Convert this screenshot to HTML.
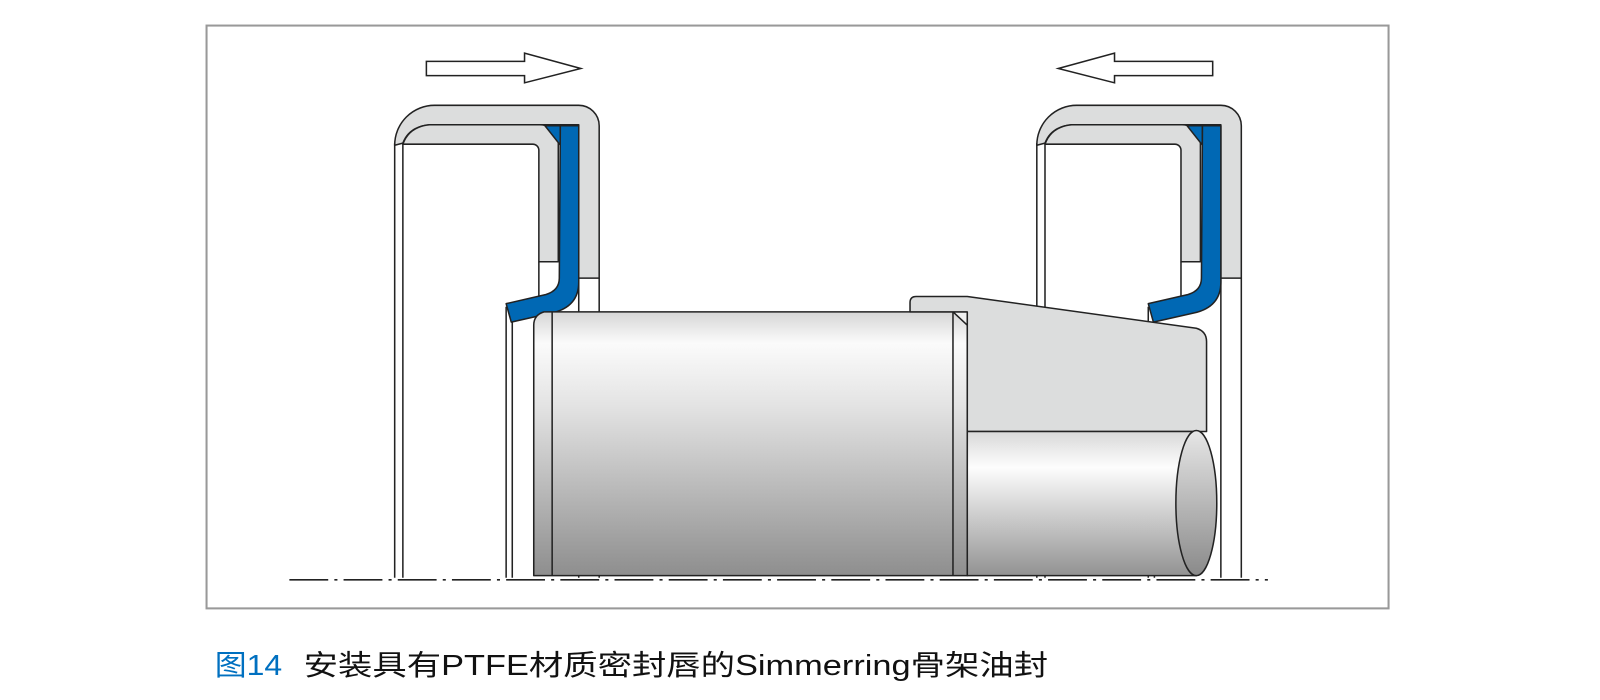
<!DOCTYPE html>
<html><head><meta charset="utf-8"><style>
html,body{margin:0;padding:0;background:#fff;width:1600px;height:700px;overflow:hidden}
</style></head><body>
<svg width="1600" height="700" viewBox="0 0 1600 700" xmlns="http://www.w3.org/2000/svg">
<defs>
<linearGradient id="cyl" x1="0" y1="0" x2="0" y2="1">
<stop offset="0" stop-color="#d6d6d6"/><stop offset="0.12" stop-color="#fbfbfb"/><stop offset="0.35" stop-color="#e4e4e4"/><stop offset="1" stop-color="#8e8e8e"/>
</linearGradient>
<linearGradient id="cyl2" x1="0" y1="0" x2="0" y2="1">
<stop offset="0" stop-color="#d8d8d8"/><stop offset="0.25" stop-color="#fdfdfd"/><stop offset="1" stop-color="#929292"/>
</linearGradient>
<linearGradient id="ell" x1="0" y1="0" x2="0" y2="1">
<stop offset="0" stop-color="#e6e6e6"/><stop offset="1" stop-color="#8a8a8a"/>
</linearGradient>
<g id="seal" stroke="#222" stroke-width="1.5" stroke-linejoin="round">
<line x1="386" y1="140" x2="386" y2="565"/>
<line x1="394" y1="140" x2="394" y2="565"/>
<line x1="566" y1="272" x2="566" y2="565"/>
<line x1="586" y1="272" x2="586" y2="565"/>
<line x1="495" y1="300" x2="495" y2="565"/>
<line x1="501" y1="310" x2="501" y2="565"/>
<line x1="527" y1="256" x2="527" y2="292"/>
<path d="M386,142 A39,39 0 0 1 425,103 H566 A20,20 0 0 1 586,123 V272 H566 V122 H420 Q400,124 394,140 Z" fill="#dcdddd"/>
<path d="M394,141 Q400,124 420,122 H528 A18,18 0 0 1 546,140 V256 H527 V147 A6,6 0 0 0 521,141 Z" fill="#dcdddd"/>
<polygon points="533,123 548,123 548,142" fill="#0068b4"/>
<path d="M548,123 H566 V276 Q566,300 540,306 L500,315 L495,297 L534,288 Q547,284 547,272 Z" fill="#0068b4"/>
</g>
</defs>
<g transform="scale(1.0225)">
<rect x="202" y="25" width="1156" height="570" fill="none" stroke="#999" stroke-width="2"/>
<polygon points="417,60 513,60 513,52 568,67 513,81 513,74 417,74" fill="#fff" stroke="#222" stroke-width="1.5"/>
<polygon points="1186,60 1090,60 1090,52 1035,67 1090,81 1090,74 1186,74" fill="#fff" stroke="#222" stroke-width="1.5"/>
<use href="#seal"/>
<use href="#seal" transform="translate(628,0)"/>
<g stroke="#222" stroke-width="1.5" stroke-linejoin="round">
<path d="M522,563 V318 Q522,308 532,305 H946 V563 Z" fill="url(#cyl)"/>
<line x1="540" y1="305" x2="540" y2="563"/>
<line x1="932" y1="305" x2="932" y2="563"/>
<polygon points="932,305 946,305 946,318" fill="#f0f0f0"/>
<path d="M946,422 V305 H890 V296 Q890,290 896,290 H946 L1170,321 Q1180,324 1180,334 V422 Z" fill="#dcdddd"/>
<rect x="946" y="422" width="224" height="141" fill="url(#cyl2)"/>
<ellipse cx="1170" cy="492" rx="20" ry="71" fill="url(#ell)"/>
</g>
<line x1="283" y1="567" x2="1240" y2="567" stroke="#222" stroke-width="1.6" stroke-dasharray="38,6,3,6"/>
<text x="210" y="660" font-family="'Liberation Sans','Noto Sans CJK SC',sans-serif" font-size="28" fill="#0070c0" textLength="66" lengthAdjust="spacingAndGlyphs">图14</text>
<text x="297" y="660" font-family="'Liberation Sans','Noto Sans CJK SC',sans-serif" font-size="28" fill="#111" textLength="728" lengthAdjust="spacingAndGlyphs">安装具有PTFE材质密封唇的Simmerring骨架油封</text>
</g>
</svg>
</body></html>
